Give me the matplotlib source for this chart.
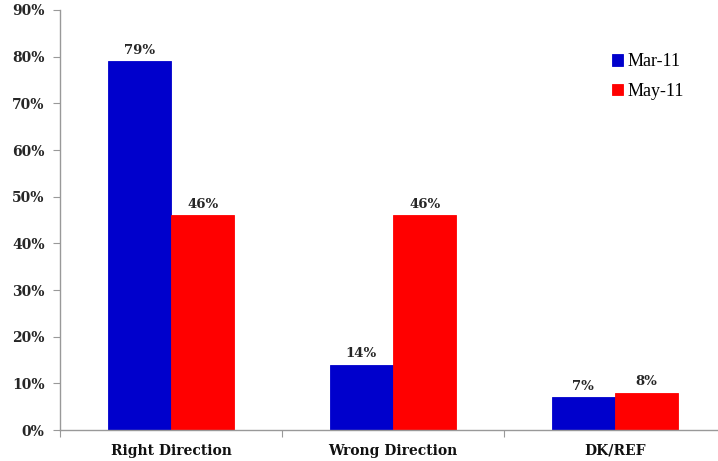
import matplotlib
matplotlib.use("Agg")
import matplotlib.pyplot as plt
import numpy as np

categories = ["Right Direction", "Wrong Direction", "DK/REF"]
series_names = ["Mar-11", "May-11"]
mar_11 = [79, 14, 7]
may_11 = [46, 46, 8]
y_ticks = [0, 10, 20, 30, 40, 50, 60, 70, 80, 90]

colors = ["#0000CC", "#FF0000"]
serif = ["DejaVu Serif"]

W, H = 718, 461
fig = plt.figure(figsize=(W / 100, H / 100), dpi=100)
ax = fig.add_axes([60 / W, (H - 430) / H, (726 - 60) / W, 420 / H])

x = np.arange(len(categories))
bw = 0.285
for i, (vals, name) in enumerate(zip([mar_11, may_11], series_names)):
    offs = (i - 0.5) * bw
    bars = ax.bar(x + offs, vals, bw, color=colors[i], label=name,
                  edgecolor=colors[i], linewidth=0.6, zorder=2)
    for b, v in zip(bars, vals):
        ax.text(b.get_x() + b.get_width() / 2, v + 0.9, f"{v}%",
                ha="center", va="bottom", fontsize=9.5, fontweight="bold",
                family=serif, color="#262626")

ax.set_xlim(-0.5, 2.5)
ax.set_ylim(0, 90)
ax.set_yticks(y_ticks)
ax.set_yticklabels([f"{t}%" for t in y_ticks], fontsize=10,
                   fontweight="bold", family=serif, color="#262626")

ax.set_xticks([-0.5, 0.5, 1.5, 2.5])
ax.set_xticklabels([])
ax.set_xticks(x, minor=True)
ax.set_xticklabels(categories, minor=True, fontsize=10, fontweight="bold",
                   family=serif, color="#111111")
ax.tick_params(axis="x", which="minor", length=0, pad=10)
ax.tick_params(axis="x", which="major", length=5, color="#999999", direction="out")
ax.tick_params(axis="y", length=5, color="#999999", direction="out", pad=6)

for s in ["top", "right"]:
    ax.spines[s].set_visible(False)
for s in ["left", "bottom"]:
    ax.spines[s].set_color("#999999")
    ax.spines[s].set_linewidth(1)

leg = ax.legend(loc="upper left", bbox_to_anchor=(596 / W, 1 - 37 / H),
                bbox_transform=fig.transFigure, frameon=False,
                prop={"family": "Liberation Serif", "size": 13},
                handlelength=0.6, handleheight=0.6, handletextpad=0.25,
                labelspacing=0.7)

fig.savefig("out.png", dpi=100)
